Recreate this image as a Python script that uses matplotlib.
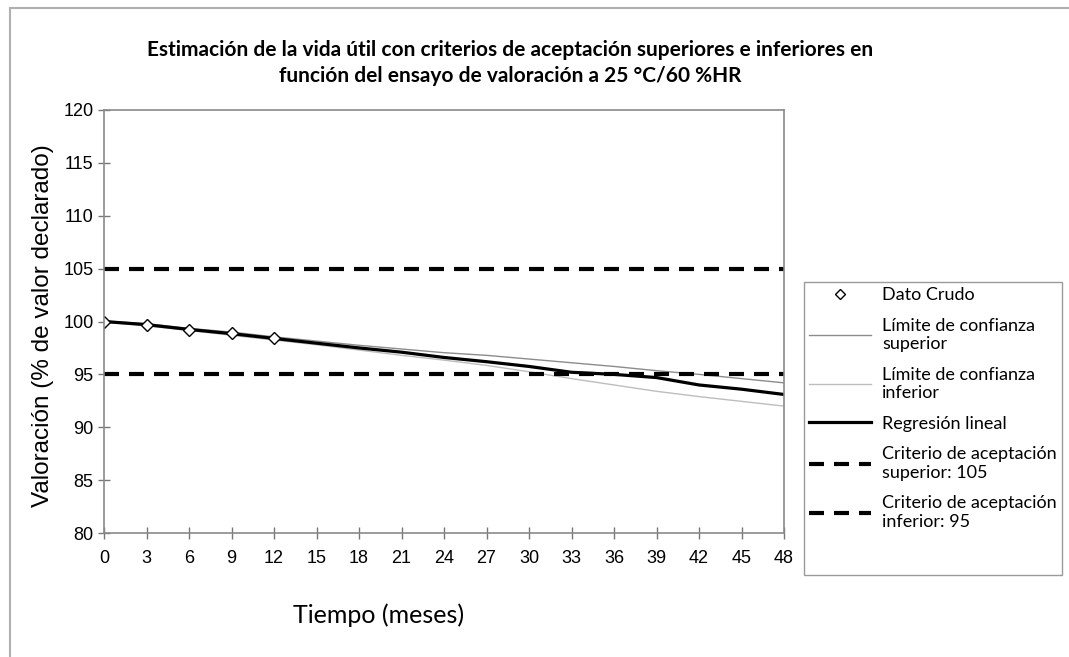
import matplotlib.pyplot as plt
from matplotlib.lines import Line2D
from matplotlib.patches import Rectangle

meses = [0, 3, 6, 9, 12, 15, 18, 21, 24, 27, 30, 33, 36, 39, 42, 45, 48]
crudo_x = [0, 3, 6, 9, 12]
crudo_y = [100.0, 99.7, 99.2, 98.9, 98.4]
regresion = [100.0, 99.7, 99.25, 98.85, 98.4, 97.95, 97.5, 97.1, 96.6, 96.2,
             95.75, 95.2, 95.0, 94.7, 94.0, 93.6, 93.1]
lim_sup = [100.05, 99.8, 99.35, 99.0, 98.55, 98.15, 97.75, 97.4, 97.05, 96.8,
           96.45, 96.1, 95.75, 95.35, 95.0, 94.6, 94.2]
lim_inf = [99.95, 99.6, 99.15, 98.7, 98.25, 97.8, 97.3, 96.8, 96.35, 95.85,
           95.25, 94.6, 94.0, 93.4, 92.9, 92.45, 92.0]
criterio_sup = 105
criterio_inf = 95

plt.rcParams['font.family'] = ['Liberation Sans', 'DejaVu Sans']
calibri_like = ['Lato', 'DejaVu Sans']

fig = plt.figure(figsize=(10.69, 6.57), dpi=100)
ax = fig.add_axes([0.0973, 0.1887, 0.6361, 0.6439])

dash = (3.6, 2.4)
ax.plot(meses, lim_sup, color='#8c8c8c', lw=1.0)
ax.plot(meses, lim_inf, color='#bdbdbd', lw=1.0)
ax.plot(meses, regresion, color='black', lw=2.3)
ax.axhline(criterio_sup, color='black', lw=3.0, dashes=dash)
ax.axhline(criterio_inf, color='black', lw=3.0, dashes=dash)
ax.plot(crudo_x, crudo_y, linestyle='none', marker='D', ms=6,
        mfc='white', mec='black', mew=1.0)

ax.set_xlim(0, 48)
ax.set_ylim(80, 120)
ax.set_xticks(meses)
ax.set_yticks(range(80, 121, 5))
ax.tick_params(direction='inout', length=8, color='#777777', labelsize=13,
               width=1)
ax.tick_params(axis='x', pad=8)
for s in ax.spines.values():
    s.set_color('#8a8a8a')
    s.set_linewidth(1.2)

fig.text(0.04, 0.505, 'Valoración (% de valor declarado)', rotation=90,
         ha='center', va='center', fontsize=17.5)
fig.text(0.354, 0.063, 'Tiempo (meses)', ha='center', va='center',
         fontsize=18, family=calibri_like)
fig.text(0.477, 0.904,
         'Estimación de la vida útil con criterios de aceptación superiores e inferiores en\n'
         'función del ensayo de valoración a 25 °C/60 %HR',
         ha='center', va='center', fontweight='bold',
         family=calibri_like, fontsize=15, linespacing=1.35)

handles = [
    Line2D([], [], linestyle='none', marker='D', ms=5.5, mfc='white', mec='black'),
    Line2D([], [], color='#8c8c8c', lw=1.0),
    Line2D([], [], color='#bdbdbd', lw=1.0),
    Line2D([], [], color='black', lw=2.3),
    Line2D([], [], color='black', lw=3.0, dashes=dash),
    Line2D([], [], color='black', lw=3.0, dashes=dash),
]
labels = ['Dato Crudo', 'Límite de confianza\nsuperior',
          'Límite de confianza\ninferior', 'Regresión lineal',
          'Criterio de aceptación\nsuperior: 105',
          'Criterio de aceptación\ninferior: 95']
leg = fig.legend(handles, labels, loc='upper left',
                 bbox_to_anchor=(0.752, 0.571),
                 prop={'family': calibri_like, 'size': 13},
                 handlelength=3.4, handletextpad=0.65, labelspacing=0.8,
                 borderpad=0.3, borderaxespad=0, frameon=False)

# legend frame, drawn taller than the entries as in the original
fig.patches.append(Rectangle((0.752, 0.1248), 0.2413, 0.446,
                             transform=fig.transFigure, fill=False,
                             edgecolor='#9a9a9a', lw=1.0))
# outer border of the picture
fig.patches.append(Rectangle((0.009, -0.01), 1.2, 0.998, transform=fig.transFigure,
                             fill=False, edgecolor='#b0b0b0', lw=1.5))

fig.savefig('out.png', dpi=100)
